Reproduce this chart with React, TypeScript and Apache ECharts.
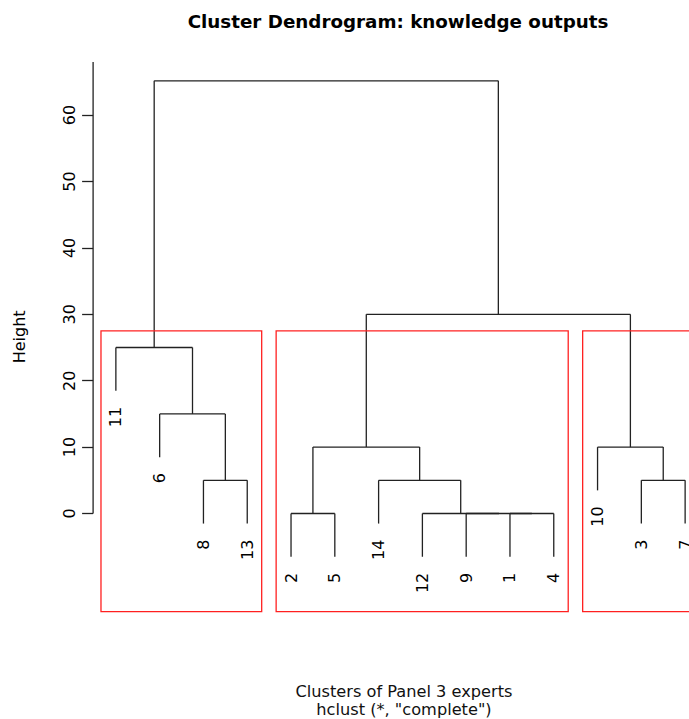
import React, { useEffect, useRef } from 'react';
import * as echarts from 'echarts';

// Leaf order along the x axis (observation ids, which are also the labels)
const leafOrder = [11, 6, 8, 13, 2, 5, 14, 12, 9, 1, 4, 10, 3, 7];
// R-style merge matrix: negative = observation id, positive = earlier merge step
const mergeLeft = [-2, -1, -9, -12, -8, -14, -3, 1, -10, -6, -11, 8, 11];
const mergeRight = [-5, -4, 2, 3, -13, 4, -7, 6, 7, 5, 10, 9, 12];
const mergeHeight = [0, 0, 0, 0, 5, 5, 5, 10, 10, 15, 25, 30, 65.16];
// rect.hclust(k = 3) cluster sizes in leaf order
const clusterSizes = [4, 7, 3];
const yTicks = [0, 10, 20, 30, 40, 50, 60];

const FONT = 'DejaVu Sans';

function buildTree() {
  const n = leafOrder.length;
  const leafPos: Record<number, number> = {};
  leafOrder.forEach((id, i) => (leafPos[id] = i + 1));
  const maxH = Math.max(...mergeHeight);
  const minH = Math.min(...mergeHeight);
  const hang = 0.1 * (maxH - minH);
  const mergeX: number[] = [];
  const xOf = (c: number) => (c < 0 ? leafPos[-c] : mergeX[c - 1]);
  const segments: number[][] = [];
  const leaves: (number | string)[][] = [];
  mergeHeight.forEach((h, i) => {
    const a = mergeLeft[i];
    const b = mergeRight[i];
    const xa = xOf(a);
    const xb = xOf(b);
    mergeX[i] = (xa + xb) / 2;
    const ya = a < 0 ? h - hang : mergeHeight[a - 1];
    const yb = b < 0 ? h - hang : mergeHeight[b - 1];
    segments.push([xa, ya, xa, h]);
    segments.push([xa, h, xb, h]);
    segments.push([xb, h, xb, yb]);
    if (a < 0) leaves.push([xa, ya, String(-a)]);
    if (b < 0) leaves.push([xb, yb, String(-b)]);
  });
  const sorted = [...mergeHeight].sort((p, q) => q - p);
  const k = clusterSizes.length;
  const cut = (sorted[k - 2] + sorted[k - 1]) / 2;
  const rects: number[][] = [];
  let m = 0;
  clusterSizes.forEach((s) => {
    rects.push([m + 0.66, cut, m + s + 0.33]);
    m += s;
  });
  return { n, segments, leaves, rects, maxH };
}

const lineItem = (params: any, api: any) => {
  const p1 = api.coord([api.value(0), api.value(1)]);
  const p2 = api.coord([api.value(2), api.value(3)]);
  return {
    type: 'line',
    shape: { x1: p1[0], y1: p1[1], x2: p2[0], y2: p2[1] },
    style: { stroke: '#222', lineWidth: 1.3 },
  };
};

export default function App() {
  const ref = useRef<HTMLDivElement>(null);
  useEffect(() => {
    if (!ref.current) return;
    const chart = echarts.init(ref.current, undefined, { renderer: 'svg' });
    const { n, segments, leaves, rects } = buildTree();
    const xMin = 1 - 0.04 * (n - 1);
    const xMax = n + 0.04 * (n - 1);
    const yMin = -14.79;
    const yMax = 68.0;

    chart.setOption({
      animation: false,
      backgroundColor: '#ffffff',
      title: [
        {
          text: 'Cluster Dendrogram: knowledge outputs',
          left: 393,
          top: 7,
          textAlign: 'center',
          textStyle: { fontFamily: FONT, fontWeight: 'bold', fontSize: 18.3, color: '#000' },
        },
        {
          text: 'Clusters of Panel 3 experts\nhclust (*, "complete")',
          left: 399,
          top: 677,
          textAlign: 'center',
          textStyle: { fontFamily: FONT, fontWeight: 'normal', fontSize: 16.2, lineHeight: 18, color: '#111' },
        },
      ],
      grid: { left: 93.1, right: 2.1, top: 62, bottom: 107.3, containLabel: false },
      xAxis: {
        type: 'value',
        min: xMin,
        max: xMax,
        show: false,
      },
      yAxis: {
        type: 'value',
        min: yMin,
        max: yMax,
        name: 'Height',
        nameLocation: 'middle',
        nameGap: 66,
        nameRotate: 90,
        nameTextStyle: { fontFamily: FONT, fontSize: 16, color: '#000' },
        splitLine: { show: false },
        axisLine: { show: false },
        axisTick: {
          show: true,
          length: 11,
          customValues: yTicks,
          lineStyle: { color: '#222', width: 1.3 },
        },
        axisLabel: {
          show: true,
          rotate: 90,
          margin: 16,
          customValues: yTicks,
          fontFamily: FONT,
          fontSize: 16,
          color: '#000',
        },
      },
      series: [
        {
          type: 'custom',
          coordinateSystem: 'cartesian2d',
          clip: false,
          silent: true,
          data: [[xMin, 0, xMin, yMax]],
          encode: { x: [0, 2], y: [1, 3] },
          renderItem: lineItem,
        },
        {
          type: 'custom',
          coordinateSystem: 'cartesian2d',
          clip: false,
          silent: true,
          data: segments,
          encode: { x: [0, 2], y: [1, 3] },
          renderItem: lineItem,
        },
        {
          type: 'custom',
          coordinateSystem: 'cartesian2d',
          clip: false,
          silent: true,
          data: rects,
          encode: { x: [0, 2], y: 1 },
          renderItem: (params: any, api: any) => {
            const p1 = api.coord([api.value(0), api.value(1)]);
            const p2 = api.coord([api.value(2), yMin]);
            return {
              type: 'rect',
              shape: { x: p1[0], y: p1[1], width: p2[0] - p1[0], height: p2[1] - p1[1] },
              style: { fill: 'none', stroke: '#ff2020', lineWidth: 1.3 },
            };
          },
        },
        {
          type: 'custom',
          coordinateSystem: 'cartesian2d',
          clip: false,
          silent: true,
          data: leaves,
          dimensions: ['x', 'y', 'label'],
          encode: { x: 0, y: 1 },
          renderItem: (params: any, api: any) => {
            const p = api.coord([api.value(0), api.value(1)]);
            const label = String(leaves[params.dataIndex][2]);
            return {
              type: 'text',
              x: p[0],
              y: p[1] + 16,
              rotation: Math.PI / 2,
              style: {
                text: label,
                fontFamily: FONT,
                fontSize: 16,
                fill: '#000',
                align: 'right',
                verticalAlign: 'middle',
              },
            };
          },
        },
      ],
    });
    return () => chart.dispose();
  }, []);
  return (
    <div style={{ position: 'absolute', left: 0, top: 0, width: 689, height: 719, overflow: 'hidden' }}>
      <div ref={ref} style={{ width: 710, height: 719 }} />
    </div>
  );
}
